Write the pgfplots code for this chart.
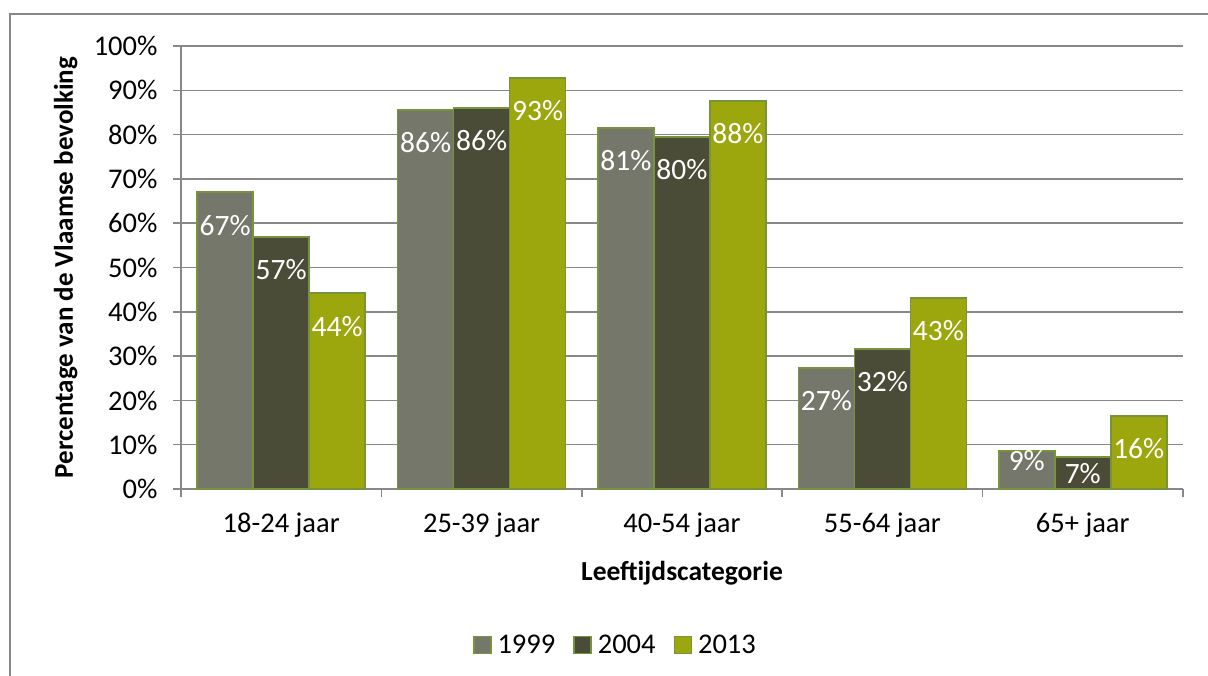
\documentclass[border=0pt]{standalone}
\usepackage{fontspec}
\setmainfont{Carlito}
\usepackage{pgfplots}
\usepackage{pgfplotstable}
\pgfplotsset{compat=1.18}
\definecolor{cA}{HTML}{76776B}
\definecolor{cB}{HTML}{4B4C37}
\definecolor{cC}{HTML}{9CA60D}
\definecolor{edge}{HTML}{77933C}
\definecolor{gridc}{HTML}{888888}

\pgfplotstableread{
x y lab dy
0 67.0 67 -22
1 85.6 86 -22
2 81.5 81 -22
3 27.3 27 -22
4 8.6 9 1
}\tabA
\pgfplotstableread{
x y lab dy
0 56.9 57 -22
1 86.0 86 -22
2 79.5 80 -22
3 31.6 32 -22
4 7.2 7 -6
}\tabB
\pgfplotstableread{
x y lab dy
0 44.2 44 -22
1 92.8 93 -22
2 87.6 88 -22
3 43.1 43 -22
4 16.5 16 -22
}\tabC

\begin{document}
\begin{tikzpicture}
\useasboundingbox (0pt,0pt) rectangle (1208pt,675pt);
\draw[gridc, line width=1.5pt] (10pt,-20pt) rectangle (1230pt,661pt);
\begin{axis}[
  at={(181pt,186pt)}, anchor=south west,
  scale only axis, width=1002pt, height=443pt,
  xmin=-0.5, xmax=4.5, ymin=0, ymax=100,
  ybar=0pt, bar width=56pt,
  xtick={-0.5,0.5,1.5,2.5,3.5,4.5},
  x tick label as interval,
  xticklabels={18-24 jaar,25-39 jaar,40-54 jaar,55-64 jaar,65+ jaar},
  ytick={0,10,...,100},
  yticklabels={0\%,10\%,20\%,30\%,40\%,50\%,60\%,70\%,80\%,90\%,100\%},
  tick align=outside, major tick length=8pt,
  tick style={draw=gridc, line width=1.5pt},
  axis x line*=bottom, axis y line*=left,
  axis line style={draw=gridc, line width=1.5pt, -},
  ymajorgrids, grid style={draw=gridc, line width=1.5pt},
  ticklabel style={font=\fontsize{28.5}{33}\selectfont},
  yticklabel style={anchor=east, xshift=-12pt},
  xticklabel style={anchor=center, yshift=-28pt},
  xlabel={\textbf{Leeftijdscategorie}},
  ylabel={\textbf{Percentage van de Vlaamse bevolking}},
  xlabel style={font=\fontsize{27.5}{32}\selectfont, at={(axis description cs:0.5,-0.19)}, anchor=center},
  ylabel style={font=\fontsize{27}{32}\selectfont, at={(axis description cs:-0.115,0.5)}, anchor=center},
  legend style={at={(axis description cs:0.4336,-0.352)}, anchor=center, draw=none, fill=none,
    font=\fontsize{28.5}{33}\selectfont, legend columns=-1,
    /tikz/every odd column/.append style={column sep=4pt},
    /tikz/every even column/.append style={column sep=16pt}},
  legend image code/.code={\draw[#1, line width=1.5pt] (0pt,-8.5pt) rectangle (17pt,8.5pt);},
  point meta=explicit,
  nodes near coords={\pgfmathprintnumber[assume math mode=true]{\pgfplotspointmeta}\%},
  visualization depends on={\thisrow{dy}\as\labdy},
  every node near coord/.append style={anchor=north, inner sep=0pt, text=white,
    font=\fontsize{29.5}{34}\selectfont, yshift=\labdy pt},
]
\addplot[fill=cA, draw=edge, line width=1.5pt] table[x=x, y=y, meta=lab] {\tabA};
\addplot[fill=cB, draw=edge, line width=1.5pt] table[x=x, y=y, meta=lab] {\tabB};
\addplot[fill=cC, draw=edge, line width=1.5pt] table[x=x, y=y, meta=lab] {\tabC};
\legend{1999,2004,2013}
\end{axis}
\end{tikzpicture}
\end{document}
